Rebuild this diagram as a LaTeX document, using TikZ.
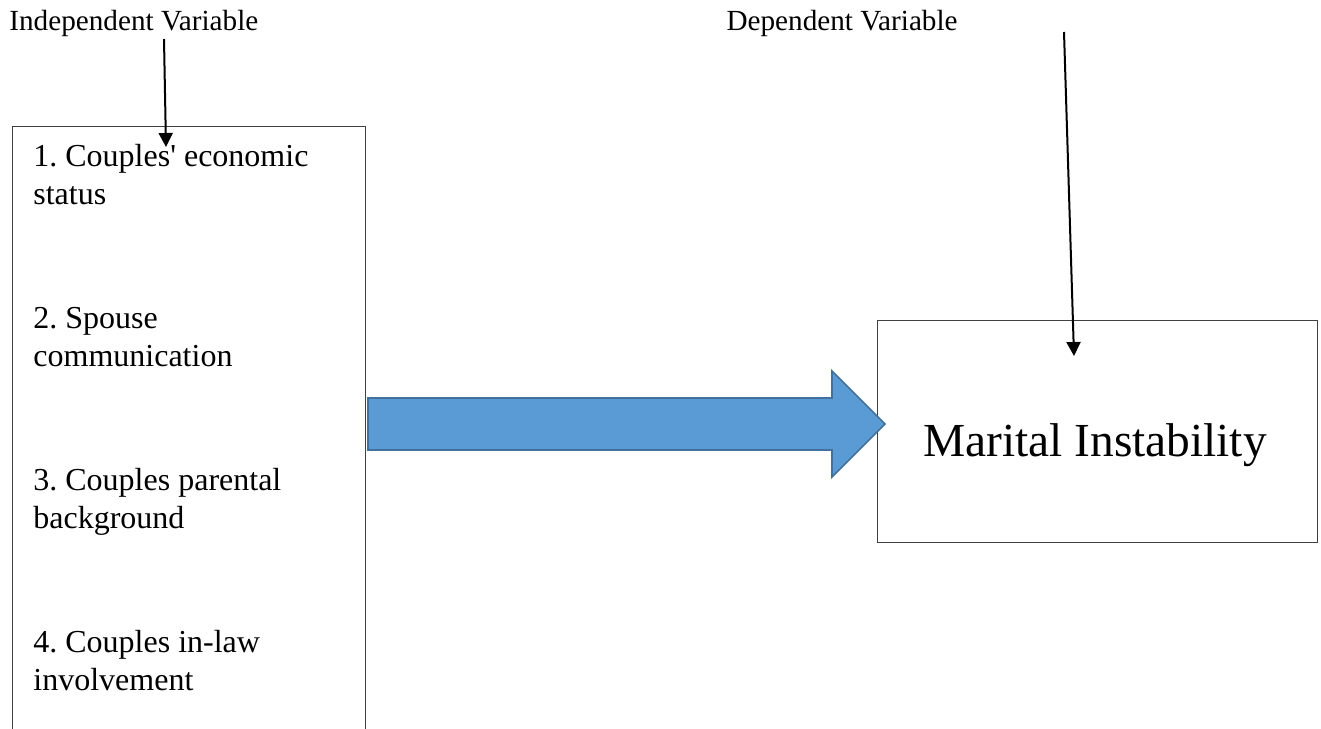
\documentclass[tikz,border=0pt]{standalone}
\usepackage{fontspec}
\setmainfont{Liberation Serif}
\usetikzlibrary{arrows.meta}
\frenchspacing
\definecolor{arrowfill}{HTML}{5B9BD5}
\definecolor{arrowline}{HTML}{41719C}
\tikzset{
  varbox/.style={draw=black!75,line width=0.6pt,inner sep=0pt},
  varlabel/.style={inner sep=0pt,font=\fontsize{14.6}{17}\selectfont},
  itemtext/.style={inner sep=0pt,align=left,font=\fontsize{16}{19}\selectfont},
  vararrow/.style={line width=1pt,-{Triangle[width=7pt,length=7pt]}},
  bigarrow/.style={fill=arrowfill,draw=arrowline,line width=0.8pt}
}
\begin{document}
\begin{tikzpicture}[x=0.5pt,y=-0.5pt]
\useasboundingbox (0,0) rectangle (1321,728);
\clip (0,0) rectangle (1321,728);
% boxes
\node[varbox,anchor=north west,minimum width=176.5pt,minimum height=330pt] (ivbox) at (12,126) {};
\node[varbox,anchor=north west,minimum width=220pt,minimum height=111pt] (dvbox) at (877,320) {};
\node[anchor=base,inner sep=0pt,font=\fontsize{23.7}{28}\selectfont] (mi) at (1095,456) {Marital Instability};
\foreach \n/\txt in {1/{1. Couples\textquotesingle{} economic\\status},2/{2. Spouse\\communication},3/{3. Couples parental\\background},4/{4. Couples in-law\\involvement}}
  \node[itemtext,anchor=base west] (item\n) at (33,{204+162*(\n-1)}) {\txt};
% labels
\node[varlabel,anchor=base west] (ivlabel) at (9,31) {Independent Variable};
\node[varlabel,anchor=base east] (dvlabel) at (958,31) {Dependent Variable};
\coordinate (ivtail) at (164,39);
\coordinate (ivtip) at (166,147);
\coordinate (dvtail) at (1064,32);
\coordinate (dvtip) at (1074,356);
\draw[vararrow] (ivtail) -- (ivtip);
\draw[vararrow] (dvtail) -- (dvtip);
% big arrow
\draw[bigarrow] (368,398) -- (832,398) -- (832,371) -- (885,424) -- (832,477) -- (832,450) -- (368,450) -- cycle;
\end{tikzpicture}
\end{document}
